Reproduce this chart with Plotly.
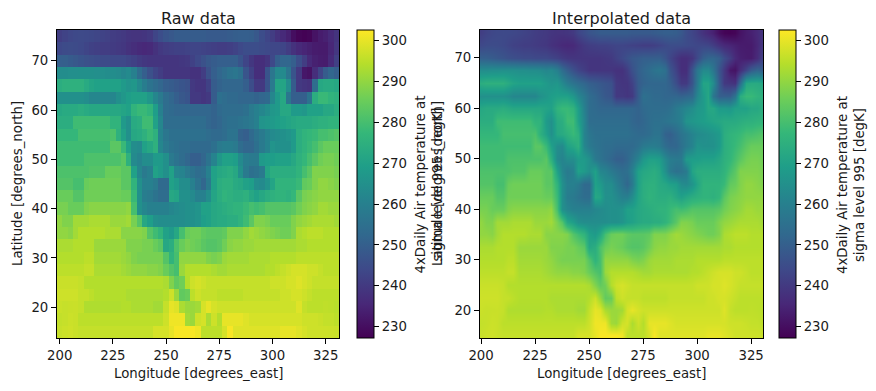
import plotly.graph_objects as go

lons = [200 + 2.5 * i for i in range(53)]
lats = [75 - 2.5 * i for i in range(25)]

r00 = [241.2,242.5,243.5,244,244.1,243.9,243.6,243.1,242.5,241.8,241,240.5,240,239,238.5,238.5,239,240,243,245,247,248,249,249,249,249,249,249,248.5,248.5,248.5,248.5,249,249.5,250,250,249.5,248,245,243,241,238,236,234,230,228,227.5,228,231,233,234,236,238.6]
r01 = [243.8,244.5,244.7,244.5,244,243,242,241.5,241,241,240.5,240,239.5,238,237,236,235.5,236,238,240,241,241.5,242,242,242.5,243,243,242.5,242,241.5,241,241,241.5,242.5,244,245,245,245,244.5,244,243.5,243.5,243,241,238,236,235,234,233,232.8,232.8,235.3,239.3]
r02 = [250,249.8,248.9,248,247,246,245.5,245,244.5,244.5,244,244,244,243,242,240.5,239.5,239,239,239,239,239,239,239.5,240,242,244,246,248,249,250,250,250,250,247,243,239.5,237,237,239,244,250,252,252,250,245,241,236,234,233.2,233,236.4,241.7]
r03 = [264,264,264.5,264.5,265,265,265,264.5,264.5,264,264,263.5,262,263,260,254,250,246,243,241,239,239,239,239,239,238,238,241,246,250,252,254,256,257,255,247,242,237,237,247,257,263,263,257,247,240,232,231,237,243,249,252,250]
r04 = [274,275,275,275,275,273,271,270,270,270,270,270,268,266,267,263,259,256,254,252,250,249,248,247,246,240,239,239,242,249,251,252,252,252,252,250,245,240,240,247,258,271,271,264,249,240,239,238,254,272,273,273,272]
r05 = [265,265,265,265,265,264,262,262,262,262,262,265,267,269,270,270,270,267,262,258,254,252,250,248,247,240,240,239,240,249,255,254,253,253,252,252,252,251,252,253,262,268,272,257,250,250,250,256,274,278,278,276,275]
r06 = [272,273,273,273,274,273,272,272,272,272,272,272,271,270,276,278,278,276,269,260,254,253,252,252,252,252,252,252,252,251,253,254,254,254,254,255,258,260,262,264,267,268,272,272,268,268,267,270,270,270,272,272,274]
r07 = [274,274,274,279,279,279,279,279,279,279,276,276,268,265,273,274,279,279,270,262,254,254,254,254,254,254,254,254,252,251,252,254,255,255,256,257,258,260,266,267,268,269,270,271,272,273,273,273,274,275,275,276,276]
r08 = [277,277,277,277,280,280,280,280,280,280,281,275,270,265,272,273,275,278,275,261,257,255,255,255,255,255,255,255,254,253,253,254,256,256,251,250,253,256,258,261,263,264,265,266,268,274,276,277,278,280,280,281,282]
r09 = [279,279,279,279,279,279,279,279,279,279,283,283,278,270,264,263,270,272,275,262,258,256,255,254,254,253,253,253,253,255,258,259,259,258,254,252,252,255,258,261,266,265,265,265,268,274,276,278,280,283,285,285,285]
r10 = [279,279,279,279,279,281,281,281,281,281,281,281,283,275,263,261,264,264,268,268,265,258,256,254,252,250,250,252,256,261,267,270,270,269,263,259,258,258,268,269,269,270,270,270,272,275,277,280,283,286,287,287,286]
r11 = [281,281,281,281,281,281,282,282,282,285,285,285,283,283,270,262,258,260,270,268,265,270,262,261,258,256,254,255,260,270,272,273,274,272,265,258,255,256,258,271,274,274,274,274,274,276,280,283,288,288,288,288,287]
r12 = [282,282,282,280,280,285,286,286,286,286,286,286,283,283,276,265,260,260,258,253,253,270,268,264,264,260,256,252,258,270,274,275,275,273,272,270,269,264,263,266,271,276,276,276,276,278,284,285,288,290,290,289,288]
r13 = [285,285,285,282,282,286,286,286,286,286,286,286,285,285,278,265,259,258,256,254,254,272,271,265,265,263,260,260,264,271,274,276,275,274,274,275,272,270,272,274,275,276,276,275,277,283,287,288,289,290,290,290,290]
r14 = [287,287,285,285,285,288,289,289,289,289,289,289,289,290,280,265,262,260,260,260,260,262,263,264,265,265,266,270,270,272,273,274,275,276,276,278,280,279,280,282,282,282,282,282,283,286,288,289,290,292,292,291,291]
r15 = [290,288,288,292,292,292,293,293,293,293,291,291,291,292,287,282,272,269,265,264,264,264,264,264,265,265,266,269,270,272,273,273,274,274,276,279,283,288,288,287,285,285,285,285,288,290,291,292,293,293,293,293,292]
r16 = [290,290,289,292,294,294,294,294,294,293,293,293,289,289,289,289,288,282,279,276,270,268,272,280,285,286,286,284,283,283,283,284,288,288,288,290,292,291,290,289,288,287,286,286,288,293,294,295,295,295,294,294,294]
r17 = [293,293,293,294,294,294,294,291,291,291,291,291,291,288,288,288,287,287,285,283,272,274,281,285,287,286,285,283,282,282,283,286,289,290,290,291,291,292,292,292,292,292,292,292,292,293,293,294,294,294,294,294,294]
r18 = [294,294,294,294,294,295,295,292,292,292,292,292,291,290,288,287,287,287,287,287,282,276,280,290,290,290,290,290,288,287,288,291,292,292,292,292,293,293,293,293,294,294,294,294,294,295,295,295,295,295,295,295,295]
r19 = [295,295,295,295,295,296,296,293,293,293,293,293,292,291,290,290,290,289,289,288,285,282,280,291,294,294,294,294,294,293,292,292,293,293,293,293,293,293,293,294,294,295,296,297,298,298,298,297,297,296,295,295,295]
r20 = [296.5,296.5,296.5,296.5,296,294,294,294,294,294,294,294,294,294,294,294,294,294,294,294,293,288,284,286,294,297,298,297,296,296,296,296,296,296,296,296,296,296,296,296,297,297,297,298,298,299,298,297,296,296,296,296,296]
r21 = [297,297,297,297,296,296,295,294,294,294,294,294,294,293,293,293,293,293,293,293,294,297,291,284,285,295,297,296,296,296,295,295,295,295,295,296,296,296,296,296,296,296,297,297,298,298,297,296,295,295,295,295,295]
r22 = [296.6,296.2,296.4,296.5,296,293.5,293.5,293.5,293.5,293.5,293.5,293.5,294,294,293,293,293,293,292,292,296,300,299,293,291,291,292,298,300,298,297,297,297,297,297,297,297,297,297,297,297,297,297,297,297,299,296,295,295,295,295.4,295.1,294.7]
r23 = [295.9,296.2,296.8,296.5,295,295,295,295,295,295,295,295,295,295,295,295,295,295,295,295,297,301,301,301,292,291,297,298,293,297,294,300,300,300,300,299,298,298,298,298,298,298,298,298,298,298,297,297,297,296.5,295.9,295.9,295.2]
r24 = [296.3,296.8,297.1,296.5,296,296,296,296,296,296,296,296,296,296,296,296,296,296,298,298,298,300,302,302,302,302,301,295,295,295,295,298,302,299,299,299,299,299,299,299,299,299,300,300,300,299,298,297,297,297,296.9,296.8,296.6]

rows = [r00,r01,r02,r03,r04,r05,r06,r07,r08,r09,r10,r11,r12,r13,r14,r15,r16,r17,r18,r19,r20,r21,r22,r23,r24]
for i, r in enumerate(rows):
    assert len(r) == 53, (i, len(r))

lon_ticks = [200, 225, 250, 275, 300, 325]
lat_ticks = [20, 30, 40, 50, 60, 70]
cb_ticks = [230, 240, 250, 260, 270, 280, 290, 300]
ZMIN, ZMAX = 227.2, 302.6

W, H = 876, 391
FONT = "DejaVu Sans"
FS = 13.3
px = lambda v: v / W
py = lambda v: 1 - v / H
TOP, BOT = 30, 338


def cbar(x):
    return dict(
        x=px(x), xanchor="left", xref="paper", xpad=0, ypad=0,
        y=py(BOT), yanchor="bottom", yref="paper",
        lenmode="fraction", len=(BOT - TOP) / H,
        thickness=16.5, thicknessmode="pixels",
        outlinecolor="black", outlinewidth=1,
        tickmode="array", tickvals=cb_ticks, ticktext=[str(t) for t in cb_ticks],
        ticks="outside", ticklen=5, tickwidth=1, tickcolor="black",
        tickfont=dict(family=FONT, size=FS, color="#1a1a1a"),
    )


fig = go.Figure()
fig.add_trace(go.Heatmap(
    x=lons, y=lats[::-1], z=rows[::-1], colorscale="Viridis", zmin=ZMIN, zmax=ZMAX,
    colorbar=cbar(357), xaxis="x", yaxis="y", hoverinfo="skip",
))
fig.add_trace(go.Heatmap(
    x=lons, y=lats[::-1], z=rows[::-1], colorscale="Viridis", zmin=ZMIN, zmax=ZMAX,
    zsmooth="best", colorbar=cbar(779), xaxis="x2", yaxis="y2", hoverinfo="skip",
))


def axis(domain, rng, ticks, anchor):
    return dict(
        domain=domain, range=rng, anchor=anchor,
        tickmode="array", tickvals=ticks, ticktext=[str(t) for t in ticks],
        ticks="outside", ticklen=5, tickwidth=1, tickcolor="black",
        tickfont=dict(family=FONT, size=FS, color="#1a1a1a"),
        showgrid=False, zeroline=False, showline=True, linecolor="black",
        linewidth=1, mirror=True,
    )


def note(text, x, y, size=FS, angle=0):
    return dict(
        text=text, x=px(x), y=py(y), xref="paper", yref="paper",
        xanchor="center", yanchor="middle", showarrow=False, textangle=angle,
        font=dict(family=FONT, size=size, color="#1a1a1a"),
    )


cb_title = "4xDaily Air temperature at<br>sigma level 995 [degK]"
fig.update_layout(
    width=W, height=H, margin=dict(l=0, r=0, t=0, b=0, autoexpand=False),
    paper_bgcolor="white", plot_bgcolor="white", showlegend=False,
    xaxis=axis([px(57), px(339)], [198.75, 331.25], lon_ticks, "y"),
    yaxis=axis([py(BOT), py(TOP)], [13.75, 76.25], lat_ticks, "x"),
    xaxis2=axis([px(480), px(763)], [199.5, 330.5], lon_ticks, "y2"),
    yaxis2=axis([py(BOT), py(TOP)], [14.5, 75.5], lat_ticks, "x2"),
    annotations=[
        note("Raw data", 198, 18, 16),
        note("Interpolated data", 621, 18, 16),
        note("Longitude [degrees_east]", 198, 373),
        note("Longitude [degrees_east]", 621, 373),
        note("Latitude [degrees_north]", 17, 184, angle=-90),
        note("Latitude [degrees_north]", 437, 184, angle=-90),
        note(cb_title, 428.5, 185, angle=-90),
        note(cb_title, 851, 185, angle=-90),
    ],
)
fig.write_html(
    "out.html",
    config={"displayModeBar": False},
    post_script="document.body.style.margin='0';document.documentElement.style.overflow='hidden';",
)
